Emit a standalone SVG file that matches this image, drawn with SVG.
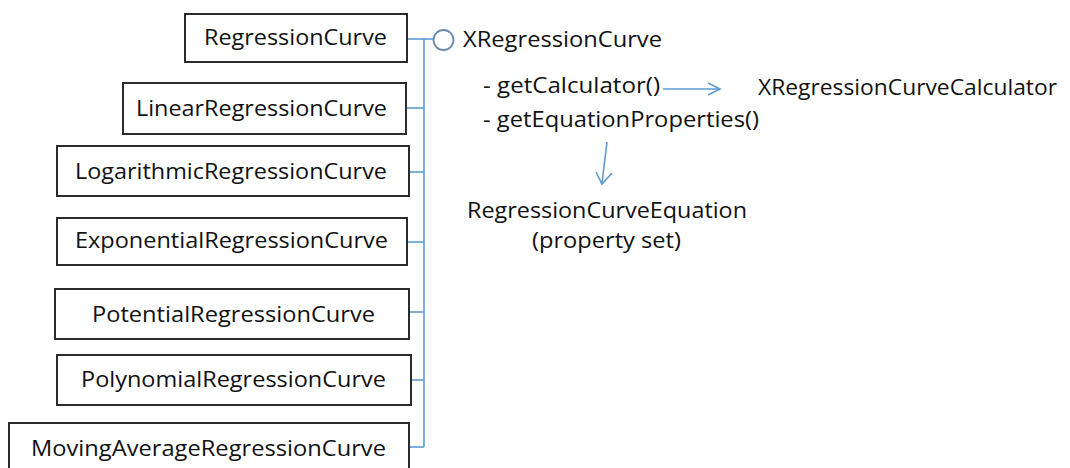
<svg xmlns="http://www.w3.org/2000/svg" width="1070" height="468" viewBox="0 0 1070 468">
<style>
.box{fill:#fff;stroke:#2b2b2b;stroke-width:2}
.t{font-family:"Open Sans","Noto Sans","Liberation Sans",sans-serif;font-size:21px;fill:#111}
.c{fill:none;stroke:#5b9bd5;stroke-width:1.6}
.ah{fill:none;stroke:#5b9bd5;stroke-width:1.6;stroke-linejoin:miter}
</style>
<rect width="1070" height="468" fill="#fff"/>
<g id="connectors">
<line class="c" x1="424" y1="39" x2="424" y2="447"/>
<line class="c" x1="407" y1="39" x2="433.5" y2="39"/>
<line class="c" x1="406" y1="108" x2="424" y2="108"/>
<line class="c" x1="409" y1="172" x2="424" y2="172"/>
<line class="c" x1="407" y1="242" x2="424" y2="242"/>
<line class="c" x1="409" y1="312" x2="424" y2="312"/>
<line class="c" x1="411" y1="380" x2="424" y2="380"/>
<line class="c" x1="409" y1="447" x2="424" y2="447"/>
<line class="c" x1="663" y1="89" x2="719" y2="89"/>
<polyline class="ah" points="708,83 720,89 708,95"/>
<line class="c" x1="607" y1="142" x2="602" y2="183"/>
<polyline class="ah" points="596,172 602,184 612,173"/>
</g>
<g id="XRegressionCurve">
<circle cx="443.5" cy="40" r="10" fill="#fff" stroke="#6a8bab" stroke-width="1.8"/>
<text class="t" x="463" y="47" textLength="199" lengthAdjust="spacingAndGlyphs">XRegressionCurve</text>
<text class="t" x="483" y="93" textLength="177" lengthAdjust="spacingAndGlyphs">- getCalculator()</text>
<text class="t" x="483" y="127" textLength="276" lengthAdjust="spacingAndGlyphs">- getEquationProperties()</text>
</g>
<g id="XRegressionCurveCalculator">
<text class="t" x="758" y="95" textLength="299" lengthAdjust="spacingAndGlyphs">XRegressionCurveCalculator</text>
</g>
<g id="RegressionCurveEquation">
<text class="t" x="467" y="218" textLength="280" lengthAdjust="spacingAndGlyphs">RegressionCurveEquation</text>
<text class="t" x="532" y="248" textLength="149" lengthAdjust="spacingAndGlyphs">(property set)</text>
</g>
<g id="RegressionCurve">
<rect class="box" x="185" y="14" width="222" height="48"/>
<text class="t" x="204" y="45" textLength="183" lengthAdjust="spacingAndGlyphs">RegressionCurve</text>
</g>
<g id="LinearRegressionCurve">
<rect class="box" x="123" y="83" width="283" height="51"/>
<text class="t" x="136" y="116" textLength="251" lengthAdjust="spacingAndGlyphs">LinearRegressionCurve</text>
</g>
<g id="LogarithmicRegressionCurve">
<rect class="box" x="57" y="146" width="352" height="50"/>
<text class="t" x="75" y="179" textLength="312" lengthAdjust="spacingAndGlyphs">LogarithmicRegressionCurve</text>
</g>
<g id="ExponentialRegressionCurve">
<rect class="box" x="57" y="218" width="350" height="47"/>
<text class="t" x="75" y="248" textLength="313" lengthAdjust="spacingAndGlyphs">ExponentialRegressionCurve</text>
</g>
<g id="PotentialRegressionCurve">
<rect class="box" x="55" y="289" width="354" height="50"/>
<text class="t" x="92" y="322" textLength="283" lengthAdjust="spacingAndGlyphs">PotentialRegressionCurve</text>
</g>
<g id="PolynomialRegressionCurve">
<rect class="box" x="57" y="355" width="354" height="50"/>
<text class="t" x="81" y="387" textLength="305" lengthAdjust="spacingAndGlyphs">PolynomialRegressionCurve</text>
</g>
<g id="MovingAverageRegressionCurve">
<rect class="box" x="9" y="423" width="400" height="60"/>
<text class="t" x="31" y="456" textLength="355" lengthAdjust="spacingAndGlyphs">MovingAverageRegressionCurve</text>
</g>
</svg>
